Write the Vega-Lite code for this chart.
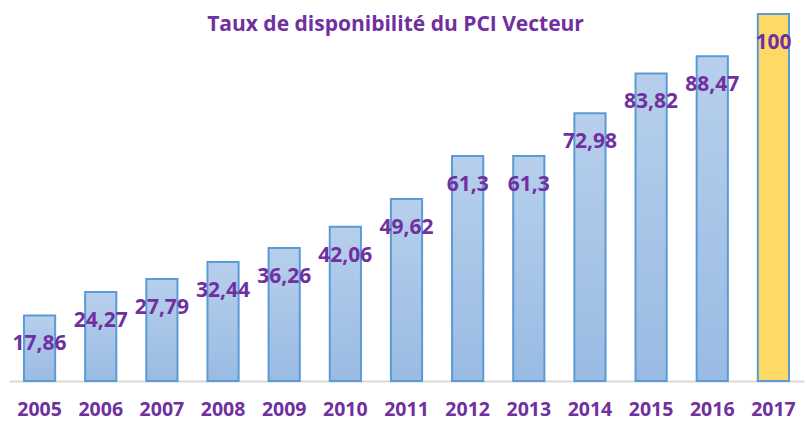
{
  "$schema": "https://vega.github.io/schema/vega-lite/v6.json",
  "autosize": "none",
  "width": 795,
  "height": 367,
  "padding": {"left": 9, "top": 14, "right": 2, "bottom": 40},
  "background": "white",
  "title": {
    "text": "Taux de disponibilité du PCI Vecteur",
    "font": "Open Sans",
    "fontSize": 21,
    "fontWeight": "bold",
    "color": "#7030a0",
    "anchor": "middle",
    "dx": -11,
    "offset": -22
  },
  "config": {"view": {"stroke": null}},
  "data": {
    "values": [
      {"year": "2005", "value": 17.86, "label": "17,86"},
      {"year": "2006", "value": 24.27, "label": "24,27"},
      {"year": "2007", "value": 27.79, "label": "27,79"},
      {"year": "2008", "value": 32.44, "label": "32,44"},
      {"year": "2009", "value": 36.26, "label": "36,26"},
      {"year": "2010", "value": 42.06, "label": "42,06"},
      {"year": "2011", "value": 49.62, "label": "49,62"},
      {"year": "2012", "value": 61.3, "label": "61,3"},
      {"year": "2013", "value": 61.3, "label": "61,3"},
      {"year": "2014", "value": 72.98, "label": "72,98"},
      {"year": "2015", "value": 83.82, "label": "83,82"},
      {"year": "2016", "value": 88.47, "label": "88,47"},
      {"year": "2017", "value": 100, "label": "100"}
    ]
  },
  "encoding": {
    "x": {
      "field": "year",
      "type": "ordinal",
      "scale": {"paddingInner": 0.49, "paddingOuter": 0.245},
      "axis": {
        "title": null,
        "labelAngle": 0,
        "labelFont": "Open Sans",
        "labelFontSize": 19.5,
        "labelFontWeight": "bold",
        "labelColor": "#7030a0",
        "labelPadding": 19,
        "ticks": false,
        "domainColor": "#d9d9d9",
        "domainWidth": 2
      }
    },
    "y": {
      "field": "value",
      "type": "quantitative",
      "scale": {"domain": [0, 100]},
      "axis": null
    }
  },
  "layer": [
    {
      "mark": {
        "type": "bar",
        "stroke": "#5b9bd5",
        "strokeWidth": 2
      },
      "encoding": {
        "fill": {
          "condition": {"test": "datum.year == '2017'", "value": "#ffd966"},
          "value": {
            "gradient": "linear",
            "x1": 0, "y1": 0, "x2": 0, "y2": 1,
            "stops": [
              {"offset": 0, "color": "#b7cfec"},
              {"offset": 1, "color": "#99bbe3"}
            ]
          }
        }
      }
    },
    {
      "mark": {
        "type": "text",
        "font": "Open Sans",
        "fontSize": 21,
        "fontWeight": "bold",
        "color": "#7030a0",
        "baseline": "middle",
        "dy": 29
      },
      "encoding": {"text": {"field": "label"}}
    }
  ]
}
